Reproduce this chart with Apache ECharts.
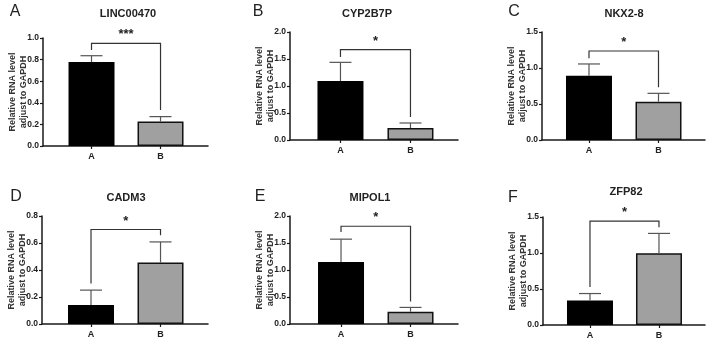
<!DOCTYPE html>
<html><head><meta charset="utf-8">
<script src="https://cdn.jsdelivr.net/npm/echarts@6.0.0/dist/echarts.min.js"></script>
<style>html,body{margin:0;padding:0;background:#fff}#c{width:708px;height:343px}</style>
</head><body><div id="c"></div>
<script>
// ---- data ----
var genes = ['LINC00470', 'CYP2B7P', 'NKX2-8', 'CADM3', 'MIPOL1', 'ZFP82'];
var letters = ['A', 'B', 'C', 'D', 'E', 'F'];
var categories = ['A', 'B'];
var meanA = [0.777, 1.093, 0.893, 0.140, 1.147, 0.339];
var meanB = [0.226, 0.222, 0.532, 0.455, 0.227, 0.998];
var errA = [0.059, 0.345, 0.163, 0.111, 0.424, 0.098];
var errB = [0.046, 0.093, 0.116, 0.153, 0.080, 0.274];
var yMax = [1.0, 2.0, 1.5, 0.8, 2.0, 1.5];
var yInterval = [0.2, 0.5, 0.5, 0.2, 0.5, 0.5];
var bracketTop = [0.95, 1.673, 1.236, 0.70, 1.81, 1.444];
var bracketLeft = [0.89, 1.537, 1.134, 0.30, 1.706, 0.529];
var bracketRight = [0.334, 0.426, 0.731, 0.657, 0.417, 1.356];
var stars = ['***', '*', '*', '*', '*', '*'];

// ---- layout ----
var grids = [
  {left: 43, top: 38, width: 165, height: 108, xmin: -0.703, xmax: 1.688},
  {left: 290, top: 32, width: 168, height: 108, xmin: -0.721, xmax: 1.679},
  {left: 542, top: 32, width: 163, height: 108, xmin: -0.676, xmax: 1.669},
  {left: 42, top: 216, width: 166, height: 108, xmin: -0.705, xmax: 1.683},
  {left: 290, top: 216, width: 168, height: 108, xmin: -0.734, xmax: 1.683},
  {left: 543, top: 217, width: 162, height: 108, xmin: -0.681, xmax: 1.667}
];
var titlePos = [[128, 14], [367, 14], [624, 14], [126, 198], [370, 198], [626, 192]];
var letterPos = [[15, 12], [258, 12], [514, 12], [16, 197], [260, 197], [513, 198]];

var option = {
  animation: false,
  backgroundColor: '#fff',
  grid: [], xAxis: [], yAxis: [], series: [], graphic: []
};

var axisColor = '#1a1a1a';
var textColor = '#222';
var fam = 'Liberation Sans, Arial, sans-serif';

for (var i = 0; i < 6; i++) {
  var g = grids[i];
  option.grid.push({left: g.left, top: g.top, width: g.width, height: g.height, containLabel: false});
  option.xAxis.push({
    type: 'value', gridIndex: i, min: g.xmin, max: g.xmax,
    splitLine: {show: false},
    axisLine: {show: true, onZero: false, lineStyle: {color: axisColor, width: 1.5}},
    axisTick: {show: true, length: 3, inside: false, customValues: [0, 1], lineStyle: {color: axisColor, width: 1.2}},
    axisLabel: {
      show: true, customValues: [0, 1], margin: 6,
      fontFamily: fam, fontWeight: 'bold', fontSize: 9, color: textColor,
      formatter: function (v) { return categories[Math.round(v)] || ''; }
    }
  });
  option.yAxis.push({
    type: 'value', gridIndex: i, min: 0, max: yMax[i], interval: yInterval[i],
    splitLine: {show: false},
    axisLine: {show: true, onZero: false, lineStyle: {color: axisColor, width: 1.5}},
    axisTick: {show: true, length: 3, lineStyle: {color: axisColor, width: 1.2}},
    axisLabel: {
      margin: 4, fontFamily: fam, fontWeight: 'bold', fontSize: 8.5, color: textColor,
      formatter: function (v) { return v.toFixed(1); }
    },
    name: 'Relative RNA level\nadjust to GAPDH',
    nameLocation: 'middle', nameRotate: 90, nameGap: 14, nameMoveOverlap: false,
    nameTextStyle: {fontFamily: fam, fontWeight: 'bold', fontSize: 9, color: '#333', lineHeight: 11}
  });
  option.series.push({
    type: 'bar', xAxisIndex: i, yAxisIndex: i, barWidth: 46,
    data: [
      {value: [0, meanA[i]], itemStyle: {color: '#000', borderColor: '#000', borderWidth: 1.5}},
      {value: [1, meanB[i]], itemStyle: {color: '#a0a0a0', borderColor: '#111', borderWidth: 1.5}}
    ],
    z: 2
  });
  option.series.push({
    type: 'custom', xAxisIndex: i, yAxisIndex: i, z: 3,
    data: [[0, meanA[i], errA[i]], [1, meanB[i], errB[i]]],
    renderItem: function (params, api) {
      var x = api.value(0), m = api.value(1), e = api.value(2);
      var base = api.coord([x, m]);
      var top = api.coord([x, m + e]);
      var st = {stroke: '#555', lineWidth: 1.2, fill: null};
      return {type: 'group', children: [
        {type: 'line', shape: {x1: base[0], y1: base[1], x2: top[0], y2: top[1]}, style: st},
        {type: 'line', shape: {x1: top[0] - 11, y1: top[1], x2: top[0] + 11, y2: top[1]}, style: st}
      ]};
    }
  });
  option.series.push({
    type: 'custom', xAxisIndex: i, yAxisIndex: i, z: 4,
    data: [[bracketTop[i], bracketLeft[i], bracketRight[i], i]],
    renderItem: function (params, api) {
      var t = api.value(0), l = api.value(1), r = api.value(2), k = api.value(3);
      var p1 = api.coord([0, l]), p2 = api.coord([0, t]), p3 = api.coord([1, t]), p4 = api.coord([1, r]);
      var mid = api.coord([0.5, t]);
      return {type: 'group', children: [
        {type: 'polyline', shape: {points: [p1, p2, p3, p4]}, style: {stroke: '#333', lineWidth: 1.2, fill: null}},
        {type: 'text', style: {text: stars[k], x: mid[0], y: mid[1] - 2, align: 'center', verticalAlign: 'bottom',
          font: 'bold 13px ' + fam, fill: '#222'}}
      ]};
    }
  });
  option.graphic.push({
    type: 'text', x: titlePos[i][0], y: titlePos[i][1],
    style: {text: genes[i], align: 'center', verticalAlign: 'middle', font: 'bold 11px ' + fam, fill: textColor}
  });
  option.graphic.push({
    type: 'text', x: letterPos[i][0], y: letterPos[i][1],
    style: {text: letters[i], align: 'center', verticalAlign: 'middle', font: '16px ' + fam, fill: textColor}
  });
}

var chart = echarts.init(document.getElementById('c'), null, {renderer: 'canvas'});
chart.setOption(option);
</script></body></html>
